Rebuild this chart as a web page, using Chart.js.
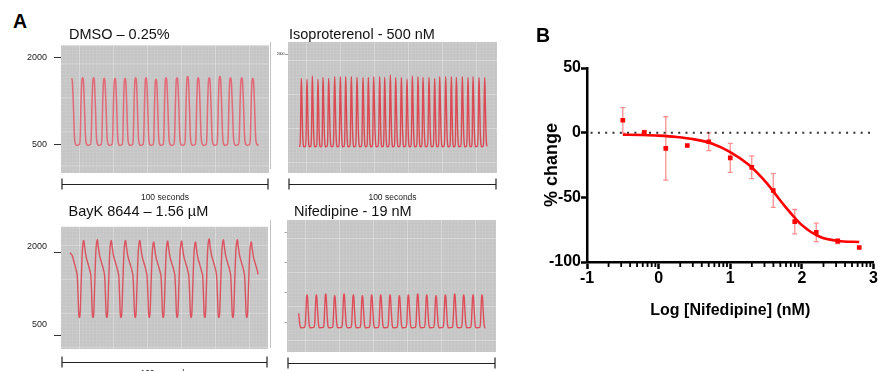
<!DOCTYPE html>
<html>
<head>
<meta charset="utf-8">
<script src="https://cdn.jsdelivr.net/npm/chart.js@4.4.1/dist/chart.umd.min.js"></script>
<style>
html, body { margin: 0; padding: 0; overflow: hidden; background: #fff; }
body { width: 878px; height: 371px; position: relative; font-family: "Liberation Sans", Arial, sans-serif; }
canvas { position: absolute; }
.lbl { position: absolute; line-height: 1; white-space: nowrap; color: #111; }
.panel { font-weight: bold; font-size: 19.5px; color: #000; }
.ttl { font-size: 14.5px; }
</style>
</head>
<body>
<canvas id="cDmso" width="273" height="170" style="left:0;top:33px"></canvas>
<canvas id="cIso" width="234" height="169" style="left:269px;top:34px"></canvas>
<canvas id="cBayk" width="268" height="170" style="left:0;top:209px"></canvas>
<canvas id="cNif" width="234" height="170" style="left:269px;top:212px"></canvas>
<canvas id="cDose" width="358" height="280" style="left:520px;top:40px"></canvas>

<div class="lbl panel" style="left:13px;top:12px">A</div>
<div class="lbl panel" style="left:536px;top:25.5px">B</div>
<div class="lbl ttl" style="left:69px;top:27px">DMSO – 0.25%</div>
<div class="lbl ttl" style="left:289px;top:26.7px">Isoproterenol - 500 nM</div>
<div class="lbl ttl" style="left:68.5px;top:203.7px">BayK 8644 – 1.56 µM</div>
<div class="lbl ttl" style="left:294px;top:203.7px">Nifedipine - 19 nM</div>

<script>
Chart.defaults.font.family = '"Liberation Sans", Arial, sans-serif';

// panel A - calcium transients, time in seconds
const traceTicks = [500, 2000];
const isoTicks = [2000];
const nifTicks = [500, 1000, 1500, 2000];

const dmsoPeakTimes = [5.1, 10.4, 15.7, 20.8, 26.0, 30.8, 35.9, 40.9, 45.7, 50.5, 55.8, 60.9, 66.0, 71.3, 76.4, 81.5, 86.9, 92.2];
const dmsoPeakValues = [1650, 1660, 1660, 1650, 1650, 1650, 1660, 1660, 1635, 1660, 1660, 1680, 1660, 1660, 1680, 1660, 1660, 1650];
const dmsoTrough = 495;
const dmsoStart = [5.1, 1650];
const dmsoEnd = [94.9, 510];
const dmsoBeat = [[0, 1], [0.07, 0.95], [0.17, 0.55], [0.26, 0.12], [0.35, 0.02], [0.44, 0], [0.7, 0.01], [0.78, 0.12], [0.85, 0.62], [0.93, 0.96]];

const isoPeakTimes = [6.38, 9.09, 11.64, 14.35, 16.75, 19.46, 22.33, 25.04, 27.59, 30.30, 33.01, 35.89, 38.44, 40.99, 43.86, 46.25, 48.96,
  51.52, 54.23, 56.94, 59.49, 62.20, 64.59, 67.46, 70.18, 72.57, 75.44, 78.15, 80.54, 83.41, 86.12, 88.52, 91.39, 94.10];
const isoPeakValues = [1594, 1578, 1633, 1578, 1611, 1594, 1622, 1622, 1622, 1622, 1611, 1611, 1611, 1622, 1622, 1611, 1650,
  1611, 1611, 1578, 1633, 1622, 1611, 1611, 1594, 1622, 1622, 1622, 1611, 1622, 1611, 1622, 1611, 1611];
const isoTrough = 455;
const isoStart = [5.26, 460];
const isoEnd = [95.2, 462];
const isoBeat = [[0, 1], [0.08, 0.8], [0.2, 0.3], [0.32, 0.05], [0.42, 0], [0.75, 0.01], [0.85, 0.2], [0.93, 0.75]];

const baykPeakTimes = [11.06, 17.63, 24.36, 31.25, 38.14, 44.87, 51.60, 58.33, 65.06, 71.63, 78.53, 85.26, 91.99];
const baykPeakValues = [2210, 2222, 2210, 2210, 2210, 2183, 2200, 2200, 2183, 2238, 2222, 2222, 2183];
const baykTrough = 822;
const baykStart = [4.33, 1988];
const baykEnd = [95.2, 1600];
const baykBeat = [[0, 1], [0.05, 0.92], [0.15, 0.8], [0.3, 0.7], [0.45, 0.6], [0.52, 0.52], [0.57, 0.3], [0.62, 0.05], [0.67, 0],
  [0.72, 0.04], [0.8, 0.45], [0.88, 0.85], [0.95, 0.98]];

const nifPeakTimes = [9.57, 14.04, 18.50, 22.81, 27.27, 31.74, 36.04, 40.51, 44.82, 49.28, 53.75, 58.06, 62.52, 66.83, 71.29, 75.76,
  80.22, 84.53, 88.99, 93.30];
const nifPeakValues = [950, 950, 967, 939, 967, 950, 939, 950, 950, 950, 939, 950, 967, 950, 939, 950, 967, 950, 950, 950];
const nifTrough = 405;
const nifStart = [5.58, 645];
const nifEnd = [94.9, 410];
const nifBeat = [[0, 1], [0.05, 0.95], [0.14, 0.5], [0.24, 0.08], [0.35, 0], [0.75, 0.01], [0.83, 0.15], [0.9, 0.6], [0.96, 0.95]];

// panel B - dose response
const doseLog = [-0.5, -0.2, 0.1, 0.4, 0.7, 1.0, 1.3, 1.6, 1.9, 2.2, 2.5, 2.8];
const pctChange = [9.6, 0, -12.2, -9.9, -7.0, -19.5, -26.8, -44.7, -68.8, -77.1, -83.9, -88.8];
const pctSem = [9.7, 1.8, 24.5, 0, 6.9, 11.2, 8.8, 13.1, 9.4, 7.2, 1.8, 0];
const fitLog = [-0.5, -0.25, 0, 0.25, 0.5, 0.75, 1.0, 1.25, 1.5, 1.75, 2.0, 2.25, 2.5, 2.8];
const fitPct = [-1.5, -1.8, -2.3, -3.3, -5.2, -8.5, -15, -24.5, -38.5, -56, -71.5, -80.5, -83.7, -84.5];
const doseTicks = [-1, 0, 1, 2, 3];
const pctTicks = [-100, -50, 0, 50];

function buildTrace(times, peaks, trough, beat, start, end) {
  const pts = [{x: start[0], y: start[1]}];
  const n = times.length;
  const per = i => (i < n - 1 ? times[i + 1] - times[i] : times[i] - times[i - 1]);
  // tail of the beat before the first full peak
  beat.forEach(([ph, f]) => {
    const t = times[0] - per(0) + ph * per(0);
    const v = trough + f * (peaks[0] - trough);
    if (t > start[0] + 0.05 && (ph >= 0.5 || v <= start[1])) pts.push({x: t, y: v});
  });
  for (let i = 0; i < n; i++) {
    beat.forEach(([ph, f]) => {
      const t = times[i] + ph * per(i);
      const top = ph < 0.5 ? peaks[i] : peaks[Math.min(i + 1, n - 1)];
      if (t > pts[pts.length - 1].x && t < end[0]) pts.push({x: t, y: trough + f * (top - trough)});
    });
  }
  pts.push({x: end[0], y: end[1]});
  return pts;
}

const traceFrame = {
  id: 'traceFrame',
  beforeDraw(chart, args, opts) {
    const {ctx, chartArea: a} = chart;
    ctx.save();
    ctx.fillStyle = '#c5c5c5';
    ctx.fillRect(a.left, a.top, a.width, a.height);
    ctx.lineWidth = 1;
    let k = 0;
    for (let x = a.left + 1.5; x < a.right; x += 3.4, k++) {
      ctx.strokeStyle = k % 10 === 5 ? 'rgba(255,255,255,0.32)' : 'rgba(255,255,255,0.09)';
      ctx.beginPath(); ctx.moveTo(x, a.top); ctx.lineTo(x, a.bottom); ctx.stroke();
    }
    k = 0;
    for (let y = a.top + 1.5; y < a.bottom; y += 3.4, k++) {
      ctx.strokeStyle = k % 10 === 5 ? 'rgba(255,255,255,0.32)' : 'rgba(255,255,255,0.09)';
      ctx.beginPath(); ctx.moveTo(a.left, y); ctx.lineTo(a.right, y); ctx.stroke();
    }
    if (opts.edge) {
      // faint frame line left over from the neighbouring panel
      ctx.strokeStyle = '#c2c2c2';
      ctx.beginPath(); ctx.moveTo(1.5, a.top); ctx.lineTo(1.5, a.bottom - 4); ctx.stroke();
    }
    ctx.restore();
  },
  afterDraw(chart, args, opts) {
    const {ctx, chartArea: a, scales: {x}} = chart;
    const x0 = x.getPixelForValue(0) + 1, x1 = x.getPixelForValue(100) - 1;
    const y = Math.round(a.bottom + opts.gap) + 0.5;
    ctx.save();
    ctx.strokeStyle = '#222';
    ctx.lineWidth = 1.2;
    ctx.beginPath();
    ctx.moveTo(x0, y); ctx.lineTo(x1, y);
    ctx.moveTo(x0, y - 6); ctx.lineTo(x0, y + 5);
    ctx.moveTo(x1, y - 6); ctx.lineTo(x1, y + 5);
    ctx.stroke();
    ctx.restore();
  }
};

function traceChart(id, p) {
  return new Chart(document.getElementById(id), {
    type: 'line',
    data: {
      datasets: [{
        data: p.points,
        borderColor: p.color,
        borderWidth: p.width,
        pointRadius: 0,
        cubicInterpolationMode: 'monotone',
        fill: false
      }]
    },
    options: {
      responsive: false,
      animation: false,
      events: [],
      layout: {padding: {top: 8, right: p.padRight, left: 0, bottom: 0}},
      plugins: {legend: {display: false}, tooltip: {enabled: false}, traceFrame: {gap: p.gap, edge: p.edge}},
      scales: {
        x: {
          type: 'linear', min: 0, max: 100,
          grid: {display: false}, border: {display: false}, ticks: {display: false},
          title: {display: true, text: '100 seconds', color: '#222', font: {size: 8.5}, padding: {top: 6.9, bottom: 0}},
          afterFit: s => { s.height = 30; }
        },
        y: {
          type: 'linear', min: p.yMin, max: p.yMax,
          afterBuildTicks: s => { s.ticks = p.ticks.map(v => ({value: v})); },
          grid: {drawOnChartArea: false, tickLength: p.tickLength, tickColor: p.tickColor, tickWidth: 1},
          border: {display: false},
          ticks: {display: p.labels !== null, color: '#222', font: {size: p.fontSize}, padding: p.tickPad,
            callback: v => (p.labels ? p.labels(v) : String(v))},
          afterFit: s => { s.width = p.axisWidth; }
        }
      }
    },
    plugins: [traceFrame]
  });
}

traceChart('cDmso', {
  points: buildTrace(dmsoPeakTimes, dmsoPeakValues, dmsoTrough, dmsoBeat, dmsoStart, dmsoEnd),
  color: 'rgba(230, 88, 104, 0.85)', width: 1.5, yMin: 16.7, yMax: 2216.7, ticks: traceTicks,
  tickLength: 7, tickColor: '#333', fontSize: 9, tickPad: 7, labels: v => String(v),
  axisWidth: 61, padRight: 4, gap: 11, edge: false
});
traceChart('cIso', {
  points: buildTrace(isoPeakTimes, isoPeakValues, isoTrough, isoBeat, isoStart, isoEnd),
  color: 'rgba(222, 50, 64, 0.85)', width: 1.4, yMin: 16.7, yMax: 2200, ticks: isoTicks,
  tickLength: 3, tickColor: '#999', fontSize: 3.5, tickPad: 0.5, labels: v => String(v),
  axisWidth: 19, padRight: 6, gap: 11, edge: true
});
traceChart('cBayk', {
  points: buildTrace(baykPeakTimes, baykPeakValues, baykTrough, baykBeat, baykStart, baykEnd),
  color: 'rgba(222, 62, 78, 0.85)', width: 1.4, yMin: 255, yMax: 2455, ticks: traceTicks,
  tickLength: 7, tickColor: '#333', fontSize: 9, tickPad: 7,
  labels: v => (v === 2000 ? ['2000', ''] : ['500', '', '']),
  axisWidth: 61, padRight: 0, gap: 12.5, edge: false
});
traceChart('cNif', {
  points: buildTrace(nifPeakTimes, nifPeakValues, nifTrough, nifBeat, nifStart, nifEnd),
  color: 'rgba(226, 56, 70, 0.85)', width: 1.4, yMin: 0, yMax: 2200, ticks: nifTicks,
  tickLength: 2.5, tickColor: '#aaa', fontSize: 9, tickPad: 2, labels: null,
  axisWidth: 18, padRight: 7, gap: 11, edge: true
});

const errorBars = {
  id: 'errorBars',
  beforeDatasetsDraw(chart) {
    const {ctx, scales: {x, y}} = chart;
    ctx.save();
    ctx.strokeStyle = 'rgba(255, 70, 70, 0.6)';
    ctx.lineWidth = 1.3;
    doseLog.forEach((d, i) => {
      if (!pctSem[i]) return;
      const px = x.getPixelForValue(d);
      const hi = y.getPixelForValue(pctChange[i] + pctSem[i]);
      const lo = y.getPixelForValue(pctChange[i] - pctSem[i]);
      ctx.beginPath();
      ctx.moveTo(px, hi); ctx.lineTo(px, lo);
      ctx.moveTo(px - 2.5, hi); ctx.lineTo(px + 2.5, hi);
      ctx.moveTo(px - 2.5, lo); ctx.lineTo(px + 2.5, lo);
      ctx.stroke();
    });
    ctx.restore();
  }
};

const logMinorTicks = {
  id: 'logMinorTicks',
  afterDraw(chart) {
    const {ctx, scales: {x}, chartArea} = chart;
    ctx.save();
    ctx.strokeStyle = '#000';
    ctx.lineWidth = 1.8;
    ctx.beginPath();
    for (let i = 0; i < doseTicks.length - 1; i++) {
      for (let k = 2; k <= 9; k++) {
        const px = x.getPixelForValue(doseTicks[i] + Math.log10(k));
        ctx.moveTo(px, chartArea.bottom + 1);
        ctx.lineTo(px, chartArea.bottom + 5);
      }
    }
    ctx.stroke();
    ctx.restore();
  }
};

new Chart(document.getElementById('cDose'), {
  type: 'line',
  data: {
    datasets: [
      {
        data: [{x: -0.95, y: 0}, {x: 3, y: 0}],
        borderColor: '#333', borderWidth: 2, borderDash: [2, 5.3], pointRadius: 0, order: 3
      },
      {
        data: fitLog.map((x, i) => ({x, y: fitPct[i]})),
        borderColor: '#ff0000', borderWidth: 2.6, pointRadius: 0, cubicInterpolationMode: 'monotone', order: 2
      },
      {
        data: doseLog.map((x, i) => ({x, y: pctChange[i]})),
        showLine: false, pointStyle: 'rect', pointRadius: 3.3,
        backgroundColor: '#ff0000', borderColor: '#ff0000', pointBorderWidth: 0, order: 1
      }
    ]
  },
  options: {
    responsive: false,
    animation: false,
    events: [],
    layout: {padding: {top: 28, right: 4, left: 0, bottom: 0}},
    plugins: {legend: {display: false}, tooltip: {enabled: false}},
    scales: {
      x: {
        type: 'linear', min: -1, max: 3,
        afterBuildTicks: s => { s.ticks = doseTicks.map(v => ({value: v})); },
        grid: {drawOnChartArea: false, tickLength: 7, tickWidth: 2.5, tickColor: '#000'},
        border: {color: '#000', width: 2.5},
        ticks: {color: '#000', font: {size: 16, weight: 'bold'}, padding: 0, callback: v => String(v)},
        title: {display: true, text: 'Log [Nifedipine] (nM)', color: '#000', font: {size: 16, weight: 'bold'}, padding: {top: 13.4, bottom: 0}},
        afterFit: s => { s.height = 58; }
      },
      y: {
        type: 'linear', min: -100, max: 50,
        afterBuildTicks: s => { s.ticks = pctTicks.map(v => ({value: v})); },
        grid: {drawOnChartArea: false, tickLength: 6, tickWidth: 2.5, tickColor: '#000'},
        border: {color: '#000', width: 2.5},
        ticks: {color: '#000', font: {size: 16, weight: 'bold'}, padding: 0, callback: v => String(v)},
        title: {display: true, text: '% change', color: '#000', font: {size: 18, weight: 'bold'}, padding: {top: 21, bottom: 0}},
        afterFit: s => { s.width = 67; }
      }
    }
  },
  plugins: [errorBars, logMinorTicks]
});
</script>
</body>
</html>
